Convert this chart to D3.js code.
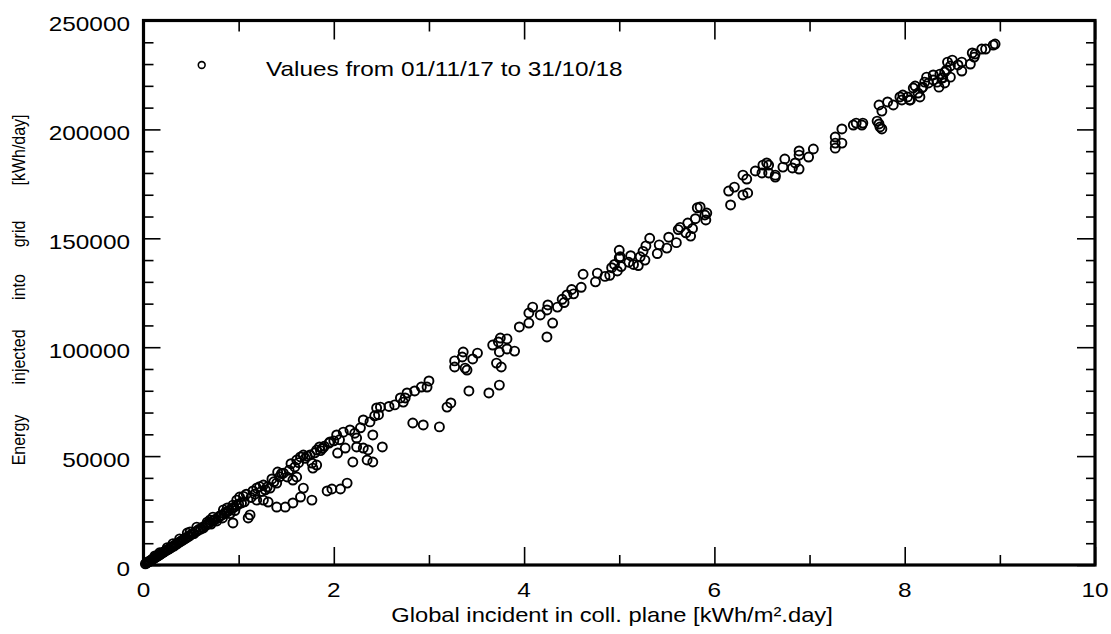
<!DOCTYPE html>
<html>
<head>
<meta charset="utf-8">
<script src="https://cdn.jsdelivr.net/npm/d3@7"></script>
<style>
  body { margin: 0; background: #fff; }
  text { font-family: "Liberation Sans", Arial, sans-serif; fill: #000; }
</style>
</head>
<body>
<script>
// daily values: [global incident kWh/m².day, energy injected kWh/day]
const dailyPoints = [
  // 0 - 1
  [0.02,500],[0.03,900],[0.04,1100],[0.05,1500],[0.06,1500],[0.07,1900],[0.08,2300],[0.09,2500],
  [0.10,2800],[0.11,3100],[0.12,3300],[0.12,4200],[0.13,3700],[0.14,3800],[0.15,4200],[0.16,4400],
  [0.17,4800],[0.17,5600],[0.18,5000],[0.20,5500],[0.21,5900],[0.22,6100],[0.23,6500],[0.25,6900],
  [0.25,8000],[0.26,7300],[0.27,7400],[0.29,8000],[0.30,8400],[0.31,9800],[0.32,8700],[0.33,9200],
  [0.35,9600],[0.36,10100],[0.38,10500],[0.38,12000],[0.39,10900],[0.41,11300],[0.42,11800],
  [0.44,12200],[0.45,12400],[0.46,14700],[0.47,13100],[0.48,13300],[0.49,15200],[0.50,13900],
  [0.52,14500],[0.53,14400],[0.55,15300],[0.56,17400],[0.57,15800],[0.58,16300],[0.60,16500],
  [0.62,17400],[0.63,17000],[0.65,18100],[0.67,18600],[0.67,19700],[0.68,19000],[0.70,19500],
  [0.70,20700],[0.71,18800],[0.73,20300],[0.73,22000],[0.74,20700],[0.76,21000],[0.77,20200],
  [0.79,21900],[0.80,22500],[0.82,22800],[0.83,21600],[0.84,25300],[0.85,23600],[0.86,24200],
  [0.88,24400],[0.88,26200],[0.90,25100],[0.91,23600],[0.93,26000],[0.94,19300],[0.94,27500],
  [0.95,26500],[0.96,25000],[0.98,27300],[0.98,29800],[1.00,28000],[1.01,31200],
  // 1 - 2
  [1.03,28500],[1.05,31500],[1.06,29000],[1.08,32500],[1.10,21600],[1.12,23000],[1.13,31000],
  [1.15,34000],[1.17,32500],[1.19,35300],[1.19,29800],[1.22,36000],[1.24,33800],[1.26,36700],
  [1.26,29800],[1.28,34500],[1.30,35800],[1.31,28900],[1.33,35300],[1.35,39500],[1.37,38200],
  [1.40,37600],[1.40,26600],[1.41,42700],[1.43,40500],[1.45,42000],[1.47,42200],[1.49,26600],
  [1.51,40400],[1.53,43500],[1.55,46500],[1.57,39000],[1.57,28500],[1.59,45000],[1.61,48200],
  [1.61,40400],[1.63,47000],[1.65,49600],[1.65,31200],[1.68,50500],[1.68,35300],[1.70,49000],
  [1.72,50000],[1.75,50500],[1.77,46800],[1.77,29800],[1.78,44500],[1.80,51500],[1.82,45900],
  [1.82,52800],[1.85,54200],[1.86,52500],[1.88,53500],[1.90,54500],[1.93,34000],[1.95,56000],
  [1.96,56500],[1.98,34900],[2.00,57000],
  // 2 - 3
  [2.03,59700],[2.04,51400],[2.06,57500],[2.07,34900],[2.10,61000],[2.12,53700],[2.14,37600],
  [2.17,62000],[2.20,47300],[2.22,60500],[2.24,58300],[2.24,54200],[2.28,63000],[2.31,66600],
  [2.31,53700],[2.35,48200],[2.36,52800],[2.38,65700],[2.41,59700],[2.41,47300],[2.43,68500],
  [2.45,72100],[2.47,69000],[2.49,72500],[2.51,54200],[2.58,72800],[2.64,73500],[2.70,76700],
  [2.73,74800],[2.75,76700],[2.77,79000],[2.83,65200],[2.85,79900],[2.92,81700],[2.94,64300],
  [2.98,81700],[3.00,84500],
  // 3 - 4
  [3.11,63400],[3.19,72500],[3.23,74400],[3.27,93700],[3.27,90900],[3.35,95500],[3.36,97800],
  [3.38,90400],[3.40,89500],[3.42,79900],[3.46,94600],[3.51,97300],[3.63,79000],[3.67,101000],
  [3.71,92700],[3.73,102400],[3.74,82600],[3.74,97800],[3.75,104200],[3.76,90900],[3.82,103800],
  [3.82,99200],[3.90,98200],[3.95,109300],
  // 4 - 5
  [4.05,111100],[4.05,115700],[4.09,118400],[4.17,114800],[4.24,117100],[4.24,104700],
  [4.25,119400],[4.30,111100],[4.35,118400],[4.40,122000],[4.42,120500],[4.45,124000],
  [4.50,126500],[4.52,124500],[4.60,127500],[4.62,133500],[4.75,130000],[4.77,134000],
  [4.85,132500],[4.90,133000],[4.92,136500],[4.95,138000],[4.98,135000],[5.00,141000],
  [5.00,144500],[5.01,141500],[5.02,137000],
  // 5 - 6
  [5.10,139000],[5.12,142000],[5.15,138000],[5.20,137500],[5.22,141500],[5.25,144000],
  [5.27,140000],[5.28,146500],[5.32,150000],[5.40,143000],[5.42,147000],[5.50,145500],
  [5.52,150500],[5.60,148000],[5.62,154000],[5.64,155000],[5.70,152500],[5.72,157000],
  [5.75,151000],[5.77,154500],[5.80,159000],[5.82,164000],[5.85,164400],[5.90,160700],
  [5.92,161600],[5.91,158400],
  // 6 - 7
  [6.17,165300],[6.15,171700],[6.21,173500],[6.30,169900],[6.35,170800],[6.30,179000],
  [6.34,177200],[6.43,180900],[6.50,180000],[6.51,183600],[6.55,184600],[6.57,183600],
  [6.57,180000],[6.64,178100],[6.64,179000],[6.72,182700],[6.74,186400],[6.82,182300],
  [6.85,184600],[6.89,181800],[6.89,188200],[6.89,190100],[6.99,187300],[7.04,191000],
  // 7 - 8
  [7.27,191400],[7.27,193700],[7.27,196500],[7.34,193700],[7.34,200200],[7.46,202000],
  [7.49,202900],[7.55,202000],[7.56,202900],[7.71,203800],[7.73,202500],[7.74,201100],
  [7.76,200200],[7.73,211200],[7.76,208400],[7.88,211200],[7.82,212600],[7.95,214900],
  [7.97,213500],[7.98,215800],
  // 8 - 9
  [8.03,214900],[8.05,213500],[8.06,213500],[8.09,219000],[8.11,219900],[8.14,216700],
  [8.16,214900],[8.18,219000],[8.19,219400],[8.21,221700],[8.23,224000],[8.25,221300],
  [8.30,222700],[8.30,225000],[8.34,221700],[8.36,219400],[8.37,225400],[8.39,223600],
  [8.40,223600],[8.42,221300],[8.42,226300],[8.44,227300],[8.45,230900],[8.48,229100],
  [8.48,224000],[8.50,231800],[8.56,229600],[8.60,230900],[8.60,226800],[8.69,230000],
  [8.71,235100],[8.73,233200],[8.74,234600],[8.81,236900],[8.85,236900],[8.93,238700],
  [8.95,239200]
];

const xMajorTicks = [0, 2, 4, 6, 8, 10];
const xMinorTicks = [1, 3, 5, 7, 9];
const yMajorTicks = [0, 50000, 100000, 150000, 200000, 250000];
const yMinorTicks = d3.range(10000, 250000, 10000).filter(v => v % 50000 !== 0);
const yTitleWords = ["Energy", "injected", "into", "grid", "[kWh/day]"];
const legendLabel = "Values from 01/11/17 to 31/10/18";
const xTitle = "Global incident in coll. plane [kWh/m².day]";

const W = 1111, H = 634;
const stretch = 1.16;

const svg = d3.select("body").append("svg").attr("width", W).attr("height", H);

const x = d3.scaleLinear().domain([0, 10]).range([143.5, 1095]);
const y = d3.scaleLinear().domain([0, 250000]).range([565, 20.5]);

// inward ticks on all four sides
function tickAxis(axis, values, size, transform) {
  const g = svg.append("g").attr("transform", transform)
    .call(axis.tickValues(values).tickSize(-size).tickFormat(""));
  g.select(".domain").remove();
  g.selectAll(".tick line").attr("stroke", "#000").attr("stroke-width", 1.6);
}
tickAxis(d3.axisBottom(x), xMajorTicks, 18, `translate(0,${y(0)})`);
tickAxis(d3.axisBottom(x), xMinorTicks, 10, `translate(0,${y(0)})`);
tickAxis(d3.axisTop(x), xMajorTicks, 19, `translate(0,${y(250000)})`);
tickAxis(d3.axisTop(x), xMinorTicks, 11, `translate(0,${y(250000)})`);
tickAxis(d3.axisLeft(y), yMajorTicks, 17, `translate(${x(0)},0)`);
tickAxis(d3.axisLeft(y), yMinorTicks, 10, `translate(${x(0)},0)`);
tickAxis(d3.axisRight(y), yMajorTicks, 18, `translate(${x(10)},0)`);
tickAxis(d3.axisRight(y), yMinorTicks, 9, `translate(${x(10)},0)`);

// frame
svg.append("rect")
  .attr("x", x(0)).attr("y", y(250000))
  .attr("width", x(10) - x(0)).attr("height", y(0) - y(250000))
  .attr("fill", "none").attr("stroke", "#000").attr("stroke-width", 3.2);

// tick labels
svg.selectAll(".ylab").data(yMajorTicks).enter().append("text")
  .attr("transform", d => `translate(130,${y(d) + 10.5}) scale(${stretch},1)`)
  .attr("text-anchor", "end").attr("font-size", 21)
  .text(d => d);

svg.selectAll(".xlab").data(xMajorTicks).enter().append("text")
  .attr("transform", d => `translate(${x(d)},597) scale(${stretch},1)`)
  .attr("text-anchor", "middle").attr("font-size", 21)
  .text(d => d);

// axis titles
svg.append("text")
  .attr("transform", `translate(612,622) scale(${stretch - 0.03},1)`)
  .attr("text-anchor", "middle").attr("font-size", 21)
  .text(xTitle);

const wordCentres = [440, 357, 287, 234, 150];
svg.selectAll(".ytitle").data(yTitleWords).enter().append("text")
  .attr("transform", (d, i) => `translate(25,${wordCentres[i]}) scale(${stretch},1) rotate(-90)`)
  .attr("text-anchor", "middle").attr("font-size", 16).attr("fill", "#222")
  .text(d => d);

// legend
svg.append("circle").attr("cx", 201.7).attr("cy", 65).attr("r", 3.4)
  .attr("fill", "none").attr("stroke", "#000").attr("stroke-width", 1.6);
svg.append("text")
  .attr("transform", `translate(266,76) scale(${stretch},1)`)
  .attr("font-size", 21)
  .text(legendLabel);

// points
svg.append("g").selectAll("circle").data(dailyPoints).enter().append("circle")
  .attr("cx", d => x(d[0]))
  .attr("cy", d => y(d[1]))
  .attr("r", 4.5)
  .attr("fill", "none")
  .attr("stroke", "#000")
  .attr("stroke-width", 1.9);
</script>
</body>
</html>
